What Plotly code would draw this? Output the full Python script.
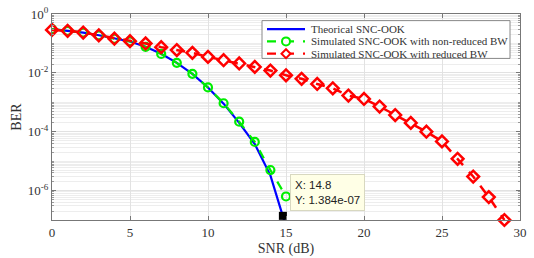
import math
import plotly.graph_objects as go

# ---- data ----
snr_theo = [0, 1, 2, 3, 4, 5, 6, 7, 8, 9, 10, 11, 12, 13, 14, 14.8, 15]
ber_theo = [0.31, 0.27, 0.235, 0.19, 0.145, 0.117, 0.077, 0.045, 0.022, 0.0093,
            0.0032, 9.0e-4, 2.0e-4, 3.8e-5, 3.3e-6, 1.384e-7, 6e-8]

snr_sim = list(range(0, 16))
ber_sim_nonreduced = [0.31, 0.27, 0.235, 0.19, 0.145, 0.118, 0.077, 0.044, 0.022, 0.0093,
                      0.0032, 9.3e-4, 2.2e-4, 4.5e-5, 5.0e-6, 6.3e-7]

snr_red = list(range(0, 30))
ber_sim_reduced = [0.29, 0.27, 0.235, 0.19, 0.145, 0.12, 0.1, 0.075, 0.06, 0.048,
                   0.035, 0.027, 0.021, 0.016, 0.012, 0.0083, 0.0063, 0.0042, 0.003, 0.0017,
                   0.0013, 7.2e-4, 3.7e-4, 2.0e-4, 1.0e-4, 4.7e-5, 1.2e-5, 3.0e-6, 6.0e-7, 1.0e-7]

tip_x = 14.8
tip_y = 1.384e-7

names = ["Theorical SNC-OOK",
         "Simulated SNC-OOK with non-reduced BW",
         "Simulated SNC-OOK with reduced BW"]

y_tick_vals = [1e0, 1e-2, 1e-4, 1e-6]
y_tick_text = ["10<sup>0</sup>", "10<sup>-2</sup>", "10<sup>-4</sup>", "10<sup>-6</sup>"]
x_tick_vals = [0, 5, 10, 15, 20, 25, 30]

serif = "Liberation Serif"
BLUE, GREEN, RED = "#0000FF", "#00EE00", "#FF0000"

W, H = 534, 258
ML, MR, MT, MB = 52, 14, 5, 35
PW, PH = W - ML - MR, H - MT - MB


def px(xp):
    return (xp - ML) / PW


def py(yp):
    return (H - MB - yp) / PH


fig = go.Figure()
fig.add_trace(go.Scatter(x=snr_theo, y=ber_theo, mode="lines", name=names[0],
                         line=dict(color=BLUE, width=2.2), showlegend=False))
fig.add_trace(go.Scatter(x=snr_sim, y=ber_sim_nonreduced, mode="lines+markers", name=names[1],
                         line=dict(color=GREEN, width=2.2, dash="dash"), showlegend=False,
                         marker=dict(symbol="circle-open", size=8, color=GREEN,
                                     line=dict(width=2.2, color=GREEN))))
fig.add_trace(go.Scatter(x=snr_red, y=ber_sim_reduced, mode="lines+markers", name=names[2],
                         line=dict(color=RED, width=2.5, dash="dash"), showlegend=False,
                         marker=dict(symbol="diamond-open", size=9, color=RED,
                                     line=dict(width=2.5, color=RED)),
                         cliponaxis=False))
fig.add_trace(go.Scatter(x=[tip_x], y=[tip_y], mode="markers", showlegend=False,
                         marker=dict(symbol="square", size=8, color="black"),
                         cliponaxis=False))

# data tip
fig.add_annotation(x=tip_x, y=math.log10(tip_y), xref="x", yref="y",
                   text=f"X: {tip_x}<br>Y: {tip_y:.3e}",
                   showarrow=False, xanchor="left", yanchor="bottom",
                   xshift=7, yshift=5, align="left",
                   bgcolor="#FFFFE6", bordercolor="#D8D8C0", borderwidth=1, borderpad=4,
                   font=dict(family="Liberation Sans", size=11.5, color="#222"))

# legend (MATLAB-style box)
shapes = [dict(type="rect", xref="paper", yref="paper",
               x0=px(262), x1=px(510), y0=py(52), y1=py(12),
               line=dict(color="#888", width=1), fillcolor="white", layer="above")]
rows = [21, 34, 47]
styles = [(BLUE, "solid", None), (GREEN, "dash", "circle"), (RED, "dash", "diamond")]
for (col, dash, mk), yr, nm in zip(styles, rows, names):
    shapes.append(dict(type="line", xref="paper", yref="paper",
                       x0=px(267), x1=px(305), y0=py(yr), y1=py(yr),
                       line=dict(color=col, width=2.2, dash=dash), layer="above"))
    if mk == "circle":
        shapes.append(dict(type="circle", xref="paper", yref="paper",
                           xsizemode="pixel", ysizemode="pixel",
                           xanchor=px(286), yanchor=py(yr),
                           x0=-4, x1=4, y0=-4, y1=4,
                           line=dict(color=col, width=2), fillcolor="white", layer="above"))
    elif mk == "diamond":
        shapes.append(dict(type="path", xref="paper", yref="paper",
                           xsizemode="pixel", ysizemode="pixel",
                           xanchor=px(286), yanchor=py(yr),
                           path="M -4.5 0 L 0 4.5 L 4.5 0 L 0 -4.5 Z",
                           line=dict(color=col, width=2), fillcolor="white", layer="above"))
    fig.add_annotation(x=px(309), y=py(yr), xref="paper", yref="paper", text=nm,
                       showarrow=False, xanchor="left", yanchor="middle",
                       font=dict(family=serif, size=11, color="#333"))

minor_vals = [m * 10.0 ** (-d) for d in range(1, 8) for m in range(1, 10)
              if not (m == 1 and d % 2 == 0)]

fig.update_layout(
    width=W, height=H,
    margin=dict(l=ML, r=MR, t=MT, b=MB),
    plot_bgcolor="white", paper_bgcolor="white",
    font=dict(family=serif, size=13, color="#333"),
    showlegend=False,
    shapes=shapes,
)
fig.update_xaxes(range=[0, 30], tickvals=x_tick_vals, ticks="inside", ticklen=4,
                 showgrid=True, gridcolor="#E2E2E2", zeroline=False,
                 showline=True, linecolor="#777", linewidth=1, mirror="allticks",
                 tickcolor="#777", ticklabeloverflow="allow",
                 title=dict(text="SNR (dB)", standoff=4, font=dict(size=14, family=serif)))
fig.update_yaxes(type="log", range=[-7, 0.002], tickvals=y_tick_vals, ticktext=y_tick_text,
                 ticks="inside", ticklen=4, tickcolor="#777", ticklabeloverflow="allow",
                 showgrid=True, gridcolor="#E2E2E2", zeroline=False,
                 showline=True, linecolor="#777", linewidth=1, mirror="allticks",
                 minor=dict(tickvals=minor_vals,
                            ticks="inside", ticklen=2, tickcolor="#999",
                            showgrid=True, gridcolor="#EDEDED"),
                 title=dict(text="BER", standoff=2, font=dict(size=14, family=serif)))

fig.write_html("out.html")
